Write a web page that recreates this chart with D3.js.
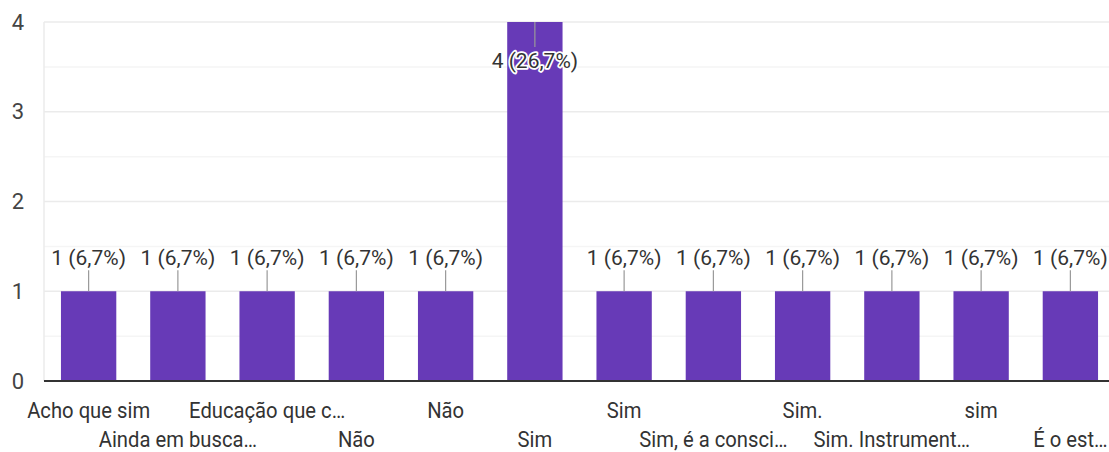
<!DOCTYPE html>
<html>
<head>
<meta charset="utf-8">
<title>Respostas</title>
<script src="https://cdn.jsdelivr.net/npm/d3@7"></script>
<style>
    body { margin: 0; background: #fff; }
    text { font-family: Roboto, Arial, sans-serif; }
</style>
</head>
<body>
<svg id="chart"></svg>
<script>
    const categories = ["Acho que sim", "Ainda em busca…", "Educação que c…", "Não", "Não", "Sim",
        "Sim", "Sim, é a consci…", "Sim.", "Sim. Instrument…", "sim", "É o est…"];
    const counts = [1, 1, 1, 1, 1, 4, 1, 1, 1, 1, 1, 1];
    const percents = ["6,7%", "6,7%", "6,7%", "6,7%", "6,7%", "26,7%", "6,7%", "6,7%", "6,7%", "6,7%", "6,7%", "6,7%"];
    const yTicks = [0, 1, 2, 3, 4];

    const width = 1109, height = 452;
    const plotLeft = 44, plotRight = 1115, plotTop = 22, plotBottom = 381;

    const svg = d3.select("#chart").attr("width", width).attr("height", height);

    const x = d3.scaleBand().domain(d3.range(categories.length)).range([plotLeft, plotRight]).paddingInner(0.38).paddingOuter(0.19);
    const y = d3.scaleLinear().domain([0, 4]).range([plotBottom, plotTop]);

    // minor + major gridlines
    svg.append("g").selectAll("line")
        .data(d3.range(0.5, 4, 1))
        .enter().append("line")
        .attr("x1", plotLeft).attr("x2", width)
        .attr("y1", d => y(d)).attr("y2", d => y(d))
        .attr("stroke", "#f5f5f5").attr("stroke-width", 1.5);
    svg.append("g").selectAll("line")
        .data(yTicks.slice(1))
        .enter().append("line")
        .attr("x1", plotLeft).attr("x2", width)
        .attr("y1", d => y(d)).attr("y2", d => y(d))
        .attr("stroke", "#ebebeb").attr("stroke-width", 1.5);
    svg.append("line")
        .attr("x1", plotLeft).attr("x2", plotLeft).attr("y1", plotTop).attr("y2", plotBottom)
        .attr("stroke", "#ebebeb").attr("stroke-width", 1.5);

    // y axis
    const yAxis = svg.append("g")
        .attr("transform", "translate(" + plotLeft + ",0)")
        .call(d3.axisLeft(y).tickValues(yTicks).tickSize(0).tickPadding(20).tickFormat(d3.format("d")));
    yAxis.select(".domain").remove();
    yAxis.selectAll("text").attr("font-size", 22).attr("fill", "#444").attr("font-family", "Roboto, Arial, sans-serif");

    // bars
    svg.append("g").selectAll("rect")
        .data(counts)
        .enter().append("rect")
        .attr("x", (d, i) => x(i))
        .attr("y", d => y(d))
        .attr("width", x.bandwidth())
        .attr("height", d => y(0) - y(d))
        .attr("fill", "#673ab7");

    // baseline
    svg.append("line")
        .attr("x1", plotLeft).attr("x2", width).attr("y1", y(0)).attr("y2", y(0))
        .attr("stroke", "#333").attr("stroke-width", 2);

    // data labels with leader lines
    const labels = svg.append("g").selectAll("g")
        .data(counts)
        .enter().append("g")
        .attr("transform", (d, i) => "translate(" + (x(i) + x.bandwidth() / 2) + ",0)");

    labels.append("line")
        .attr("y1", d => d === 4 ? y(d) : y(d) - 21)
        .attr("y2", d => d === 4 ? y(d) + 25 : y(d))
        .attr("stroke", "#999").attr("stroke-width", 1.2);

    labels.append("text")
        .attr("text-anchor", "middle")
        .attr("y", d => d === 4 ? y(d) + 46 : y(d) - 26)
        .attr("font-size", 21)
        .attr("fill", "#333")
        .attr("stroke", d => d === 4 ? "#fff" : "none")
        .attr("stroke-width", 3.5)
        .attr("stroke-linejoin", "round")
        .attr("paint-order", "stroke")
        .text((d, i) => d + " (" + percents[i] + ")");

    // x labels, alternating rows
    svg.append("g").selectAll("text")
        .data(categories)
        .enter().append("text")
        .attr("transform", (d, i) => "translate(" + (x(i) + x.bandwidth() / 2) + "," + (i % 2 === 0 ? 418 : 447) + ") scale(0.92,1)")
        .attr("text-anchor", "middle")
        .attr("font-size", 22)
        .attr("fill", "#333")
        .text(d => d);
</script>
</body>
</html>
